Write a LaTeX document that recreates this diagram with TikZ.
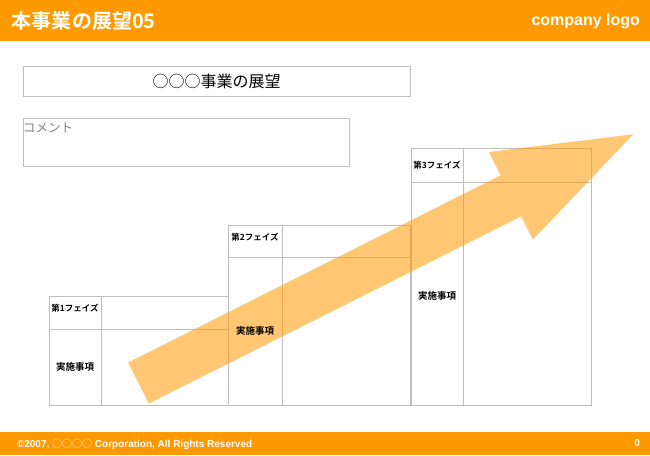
\documentclass[tikz,border=0pt]{standalone}
\usepackage{fontspec}
\setmainfont{Liberation Sans}
\newfontfamily\jp{Noto Sans CJK JP}[BoldFont={Noto Sans CJK JP Bold}]
\definecolor{barorange}{HTML}{FF9900}
\definecolor{linegray}{HTML}{BEBEBE}

\begin{document}
\begin{tikzpicture}[x=1pt, y=-1pt,
        every node/.style = {inner sep=0pt, outer sep=0pt},
        cell/.style = {draw=linegray, line width=0.9pt, anchor=north west},
        phasetext/.style = {font=\jp\bfseries\fontsize{9.5}{11}\selectfont},
        phasehead/.style = {font=\jp\bfseries\fontsize{8.5}{10}\selectfont}]
    \useasboundingbox (0,0) rectangle (650,455);
    % bars
    \fill[barorange] (0,0) rectangle (650,41);
    \fill[barorange] (0,432) rectangle (650,455);
    \node[anchor=west, text=white, font=\jp\bfseries\fontsize{20}{20}\selectfont] (head) at (12,21) {本事業の展望05};
    \node[anchor=east, text=white, font=\bfseries\fontsize{16}{16}\selectfont] (logo) at (640,21) {company logo};
    \node[anchor=west, text=white, font=\bfseries\fontsize{10}{10}\selectfont] (copy) at (17,444) {©2007, {\jp\mdseries ○○○○} Corporation, All Rights Reserved};
    \node[anchor=east, text=white, font=\bfseries\fontsize{10}{10}\selectfont] (page) at (640,443) {0};
    % title and comment
    \node[cell, minimum width=387, minimum height=30, font=\jp\fontsize{16}{16}\selectfont] (title) at (23,66) {○○○事業の展望};
    \node[cell, minimum width=326, minimum height=48] (comment) at (23,118) {};
    \node[anchor=north west, text=black!50, font=\jp\fontsize{12.5}{13}\selectfont] (note) at ([yshift=-5pt]comment.north west) {コメント};
    % phase 1
    \node[cell, minimum width=52, minimum height=33] (p1a) at (49,296) {};
    \node[cell, minimum width=127, minimum height=33] (p1b) at (101,296) {};
    \node[cell, minimum width=52, minimum height=76] (p1c) at (49,329) {};
    \node[cell, minimum width=127, minimum height=76] (p1d) at (101,329) {};
    % phase 2
    \node[cell, minimum width=54, minimum height=32] (p2a) at (228,225) {};
    \node[cell, minimum width=128, minimum height=32] (p2b) at (282,225) {};
    \node[cell, minimum width=54, minimum height=148] (p2c) at (228,257) {};
    \node[cell, minimum width=128, minimum height=148] (p2d) at (282,257) {};
    % phase 3
    \node[cell, minimum width=52, minimum height=34] (p3a) at (411,148) {};
    \node[cell, minimum width=128, minimum height=34] (p3b) at (463,148) {};
    \node[cell, minimum width=52, minimum height=223] (p3c) at (411,182) {};
    \node[cell, minimum width=128, minimum height=223] (p3d) at (463,182) {};
    % arrow
    \fill[barorange, opacity=0.55] (128.2,362.5) -- (500.6,175.3) -- (488.9,152.0) -- (633.2,134.3)
        -- (532.9,239.6) -- (521.2,216.3) -- (148.8,403.5) -- cycle;
    % texts
    \node[phasehead, yshift=4pt] (t1) at (p1a.center) {第1フェイズ};
    \node[phasetext] (d1) at (p1c.center) {実施事項};
    \node[phasehead, yshift=4pt] (t2) at (p2a.center) {第2フェイズ};
    \node[phasetext] (d2) at (p2c.center) {実施事項};
    \node[phasehead] (t3) at (p3a.center) {第3フェイズ};
    \node[phasetext, yshift=-2pt] (d3) at (p3c.center) {実施事項};
\end{tikzpicture}
\end{document}
